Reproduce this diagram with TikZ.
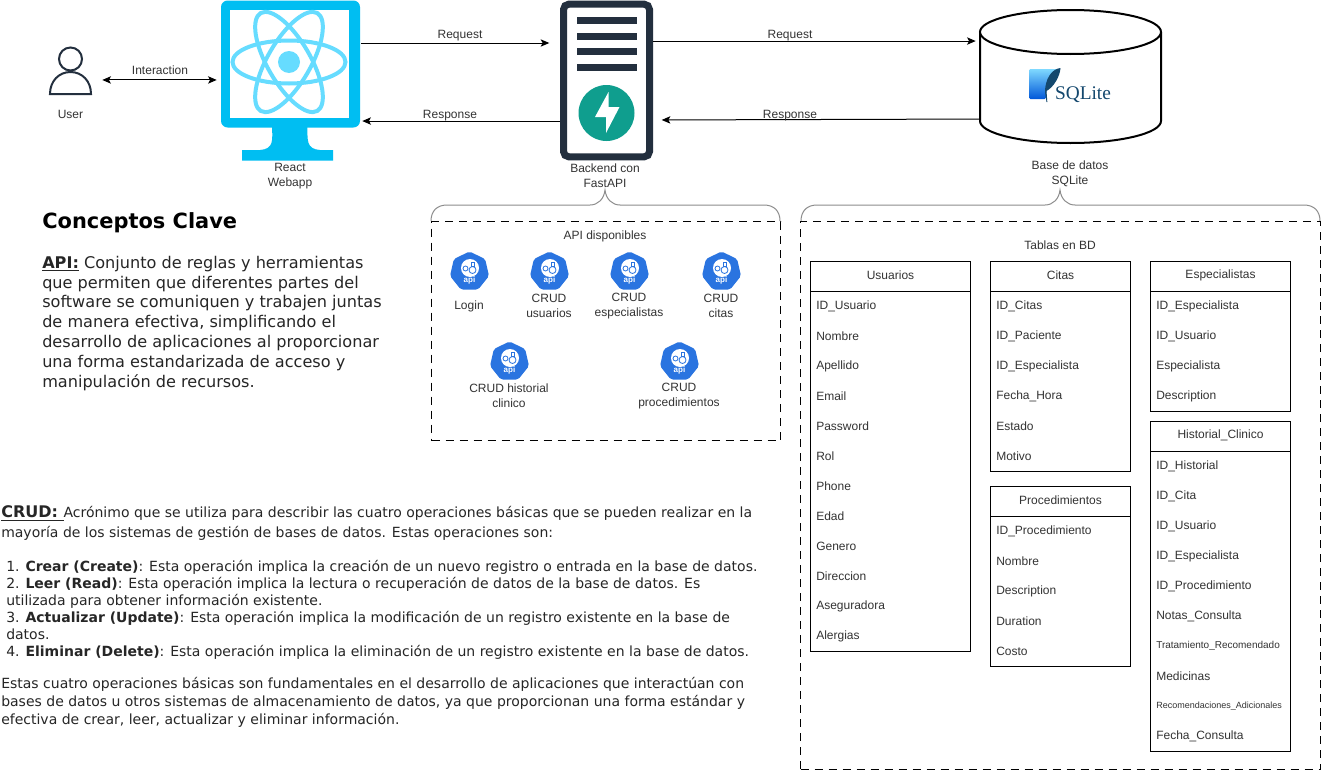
\documentclass[tikz,border=0pt]{standalone}
\usepackage{fontspec}
\setmainfont{Liberation Sans}
\newfontfamily\vera{DejaVu Sans}
\newfontfamily\sqlfont{Liberation Serif}
\usetikzlibrary{arrows.meta,shapes.geometric}
\definecolor{monblue}{HTML}{00BEF2}
\definecolor{reactblue}{HTML}{66DCFF}
\definecolor{navy}{HTML}{232F3E}
\definecolor{fastteal}{HTML}{0F9E8E}
\definecolor{apiblue}{HTML}{2A74E0}
\definecolor{sqldark}{HTML}{14486E}
\tikzset{
  x=0.75pt,y=-0.75pt,
  lbl/.style={font=\fontsize{9}{11.25}\selectfont,text=black!80,inner sep=0pt,align=center},
  flow/.style={line width=0.75pt,-{Stealth[length=6.5pt,width=5.5pt,inset=1.5pt]}},
  flowboth/.style={line width=0.75pt,{Stealth[length=6.5pt,width=5.5pt,inset=1.5pt]}-{Stealth[length=6.5pt,width=5.5pt,inset=1.5pt]}},
  dashbox/.style={draw=black,line width=0.75pt,dash pattern=on 6pt off 4.5pt,inner sep=0pt,anchor=north west},
  brace/.style={draw=black!45,line width=0.75pt},
  tablebox/.style={draw=black,line width=0.75pt,inner sep=0pt,anchor=north west,fill=white},
  verdana/.style={font=\vera\fontsize{#1}{#1}\selectfont,text=black!85,inner sep=0pt,anchor=north west,align=left},
  apiicon/.pic={
    \node[regular polygon,regular polygon sides=7,minimum size=30pt,inner sep=0pt,fill=apiblue,rounded corners=1.5pt] (-hept) at (0,0) {};
    \fill[white] (0.5,-3.5) circle (9);
    \draw[apiblue,line width=0.6pt] (3,-1.5) circle (3.5);
    \draw[apiblue,line width=0.6pt] (-4,-3) circle (2.5);
    \draw[apiblue,line width=0.6pt] (1.5,-9) rectangle (5,-5.5);
    \node[font=\bfseries\fontsize{6}{6}\selectfont,text=white,inner sep=0pt] (-txt) at (0,9) {api};
  }
}
\newcommand{\dbtable}[7]{%
  \node[tablebox,minimum width=#4*0.75pt,minimum height=#5*0.75pt] (#1) at (#2,#3) {};
  \draw[line width=0.75pt] ([yshift=-22.5pt]#1.north west) -- ([yshift=-22.5pt]#1.north east);
  \node[lbl] (#1-title) at ([yshift=-10.5pt]#1.north) {#6};
  \foreach \t [count=\i] in {#7} {
    \node[lbl,anchor=west] (#1-\i) at ([xshift=4.5pt,yshift={-(15.2+30*\i)*0.75}]#1.north west) {\t};
  }
}
\begin{document}
\begin{tikzpicture}
\useasboundingbox (0,0) rectangle (1321,771);
\fill[white] (0,0) rectangle (1321,771);

% user
\node[inner sep=0pt,minimum width=32.25pt,minimum height=36.75pt] (user) at (70.5,70.5) {};
\draw[navy,line width=1.5pt] (70.5,59) circle (11.5);
\draw[navy,line width=1.5pt] (50,94) .. controls (50,81) and (59,72) .. (70.5,72) .. controls (82,72) and (91,81) .. (91,94) -- cycle;
\node[lbl] (userlabel) at (70.5,114) {User};

% monitor
\node[fill=monblue,rounded corners=5pt,inner sep=0pt,minimum width=104.25pt,minimum height=95.25pt] (monitor) at (290.5,64) {};
\fill[monblue] (272,126) .. controls (272.5,140) and (274,149) .. (260,150) -- (242,150) -- (242,160.5) -- (333,160.5) -- (333,150) -- (320,150) .. controls (306,149) and (307.5,140) .. (307.5,126) -- cycle;
\node[fill=white,inner sep=0pt,minimum width=89.25pt,minimum height=81pt] (screen) at (289.5,64) {};
\begin{scope}[reactblue,line width=3pt]
  \draw (289,62) ellipse [x radius=56.5,y radius=21.5];
  \draw[rotate around={60:(289,62)}] (289,62) ellipse [x radius=56.5,y radius=21.5];
  \draw[rotate around={120:(289,62)}] (289,62) ellipse [x radius=56.5,y radius=21.5];
\end{scope}
\fill[reactblue] (289,62) circle (11);
\node[lbl] (monlabel) at (290,176.3) {React\\Webapp};

% server
\node[draw=navy,line width=5.25pt,rounded corners=4pt,fill=white,inner sep=0pt,minimum width=64.5pt,minimum height=114.5pt] (server) at (606.5,80.5) {};
\foreach \yy in {17,32.5,48,64} \fill[navy] (576.5,\yy) rectangle (637,\yy+7);
\fill[fastteal] (606.5,113) circle (28);
\fill[white] (608.5,92) -- (595,117) -- (606,117) -- (606,133) -- (619.5,107) -- (608.5,107) -- cycle;
\node[lbl] (serverlabel) at (605,175.7) {Backend con\\FastAPI};

% database
\node[inner sep=0pt,minimum width=135.75pt,minimum height=99.75pt] (db) at (1070.5,76.5) {};
\draw[line width=1.5pt,fill=white] (980,32) -- (980,121) .. controls (980,133) and (1020,143) .. (1070.5,143) .. controls (1121,143) and (1161,133) .. (1161,121) -- (1161,32);
\draw[line width=1.5pt,fill=white] (1070.5,32) ellipse [x radius=90.5,y radius=22];
\shade[top color=black!0!blue!30!cyan!50,bottom color=blue!60!cyan!85!black,rounded corners=1pt] (1029,69) -- (1058,69) .. controls (1050,76) and (1046,87) .. (1046,99) -- (1029,99) -- cycle;
\fill[sqldark] (1060.5,68) .. controls (1051,69) and (1045,80) .. (1045,92) -- (1046.5,102) -- (1047.3,102) -- (1046.5,91) .. controls (1054,87) and (1060,76) .. (1060.5,68) -- cycle;
\node[font=\sqlfont\fontsize{14.5}{14.5}\selectfont,text=sqldark,inner sep=0pt] (sqlite) at (1083,94.5) {SQLite};
\node[lbl] (dblabel) at (1070,173.5) {Base de datos\\SQLite};

% connectors
\draw[flowboth,shorten <=7.5pt,shorten >=3pt] ([yshift=-7.1pt]user.east) -- ([yshift=-7.1pt]user.east -| monitor.west);
\node[lbl] (l1) at (160,70) {Interaction};
\draw[flow,shorten >=8pt] ([yshift=15.75pt]monitor.east) ++(1,0) -- ([yshift=15.75pt]monitor.east -| server.west);
\node[lbl] (l2) at (460,35.8) {Request};
\draw[flow,shorten >=1.5pt] ([yshift=-30.4pt]server.west) -- ([yshift=-30.4pt]server.west -| monitor.east);
\node[lbl] (l3) at (450,115.8) {Response};
\draw[flow,shorten >=3pt] ([yshift=29.6pt]server.east) -- ([yshift=29.6pt]server.east -| db.west);
\node[lbl] (l4) at (790,35.8) {Request};
\draw[flow] ([yshift=-31.9pt]db.west) -- ([yshift=-29.6pt,xshift=6.5pt]server.east);
\node[lbl] (l5) at (790,115.8) {Response};

% braces
\draw[brace] (431,221) .. controls (431,211) and (437,205) .. (447,205) -- (590,205) .. controls (598,205) and (604,199) .. (605,190) .. controls (606,199) and (612,205) .. (620,205) -- (764,205) .. controls (774,205) and (780,211) .. (780,221);
\draw[brace] (801,221) .. controls (801,211) and (807,205) .. (817,205) -- (1045,205) .. controls (1053,205) and (1059,199) .. (1060,190) .. controls (1061,199) and (1067,205) .. (1075,205) -- (1304,205) .. controls (1314,205) and (1320,211) .. (1320,221);

% API box
\node[dashbox,minimum width=261.75pt,minimum height=164.25pt] (apibox) at (431,221) {};
\node[lbl] (apititle) at (605,236.2) {API disponibles};
\pic (a1) at (469.5,271.5) {apiicon};
\pic (a2) at (549.5,271.5) {apiicon};
\pic (a3) at (629.5,271.5) {apiicon};
\pic (a4) at (721.5,271.5) {apiicon};
\pic (a5) at (509.5,361.5) {apiicon};
\pic (a6) at (679.5,361.5) {apiicon};
\node[lbl] (t1) at (469,306.2) {Login};
\node[lbl] (t2) at (549,305.7) {CRUD\\usuarios};
\node[lbl] (t3) at (629,306.3) {CRUD\\especialistas};
\node[lbl] (t4) at (721,305.7) {CRUD\\citas};
\node[lbl] (t5) at (509,395.7) {CRUD historial\\clinico};
\node[lbl] (t6) at (679,395.7) {CRUD\\procedimientos};

% DB box
\node[dashbox,minimum width=390pt,minimum height=411.2pt] (tablesbox) at (800,221) {};
\node[lbl] (tabtitle) at (1060,245.5) {Tablas en BD};
\dbtable{usuarios}{810}{261}{160}{390}{Usuarios}{ID\_Usuario,Nombre,Apellido,Email,Password,Rol,Phone,Edad,Genero,Direccion,Aseguradora,Alergias}
\dbtable{citas}{990}{261}{140}{210}{Citas}{ID\_Citas,ID\_Paciente,ID\_Especialista,Fecha\_Hora,Estado,Motivo}
\dbtable{proc}{990}{486}{140}{180}{Procedimientos}{ID\_Procedimiento,Nombre,Description,Duration,Costo}
\dbtable{espec}{1150}{261}{140}{150}{Especialistas}{ID\_Especialista,ID\_Usuario,Especialista,Description}
\dbtable{hist}{1150}{421}{140}{330}{Historial\_Clinico}{ID\_Historial,ID\_Cita,ID\_Usuario,ID\_Especialista,ID\_Procedimiento,Notas\_Consulta,{\fontsize{7.5}{9}\selectfont Tratamiento\_Recomendado},Medicinas,{\fontsize{6.75}{9}\selectfont Recomendaciones\_Adicionales},Fecha\_Consulta}

% left text
\node[font=\vera\bfseries\fontsize{15.7}{18}\selectfont,inner sep=0pt,anchor=west] (heading) at (42,223) {Conceptos Clave};
\node[verdana=12,font=\vera\fontsize{12.08}{14.85}\selectfont] (apitext) at (42,255.8) {\underline{\textbf{API:}} Conjunto de reglas y herramientas\\que permiten que diferentes partes del\\software se comuniquen y trabajen juntas\\de manera efectiva, simplificando el\\desarrollo de aplicaciones al proporcionar\\una forma estandarizada de acceso y\\manipulación de recursos.};
\node[verdana=10.5,font=\vera\fontsize{10.5}{15}\selectfont] (crud1) at (1,505.8) {\underline{\textbf{\fontsize{12}{15}\selectfont CRUD:\ }}Acrónimo que se utiliza para describir las cuatro operaciones básicas que se pueden realizar en la\\mayoría de los sistemas de gestión de bases de datos. Estas operaciones son:};
\node[verdana=10.5,font=\vera\fontsize{10.5}{12.75}\selectfont] (crud2) at (6,560) {1. \textbf{Crear (Create)}: Esta operación implica la creación de un nuevo registro o entrada en la base de datos.\\2. \textbf{Leer (Read)}: Esta operación implica la lectura o recuperación de datos de la base de datos. Es\\utilizada para obtener información existente.\\3. \textbf{Actualizar (Update)}: Esta operación implica la modificación de un registro existente en la base de\\datos.\\4. \textbf{Eliminar (Delete)}: Esta operación implica la eliminación de un registro existente en la base de datos.};
\node[verdana=10.5,font=\vera\fontsize{10.5}{13.5}\selectfont] (crud3) at (1,677.5) {Estas cuatro operaciones básicas son fundamentales en el desarrollo de aplicaciones que interactúan con\\bases de datos u otros sistemas de almacenamiento de datos, ya que proporcionan una forma estándar y\\efectiva de crear, leer, actualizar y eliminar información.};
\end{tikzpicture}
\end{document}
